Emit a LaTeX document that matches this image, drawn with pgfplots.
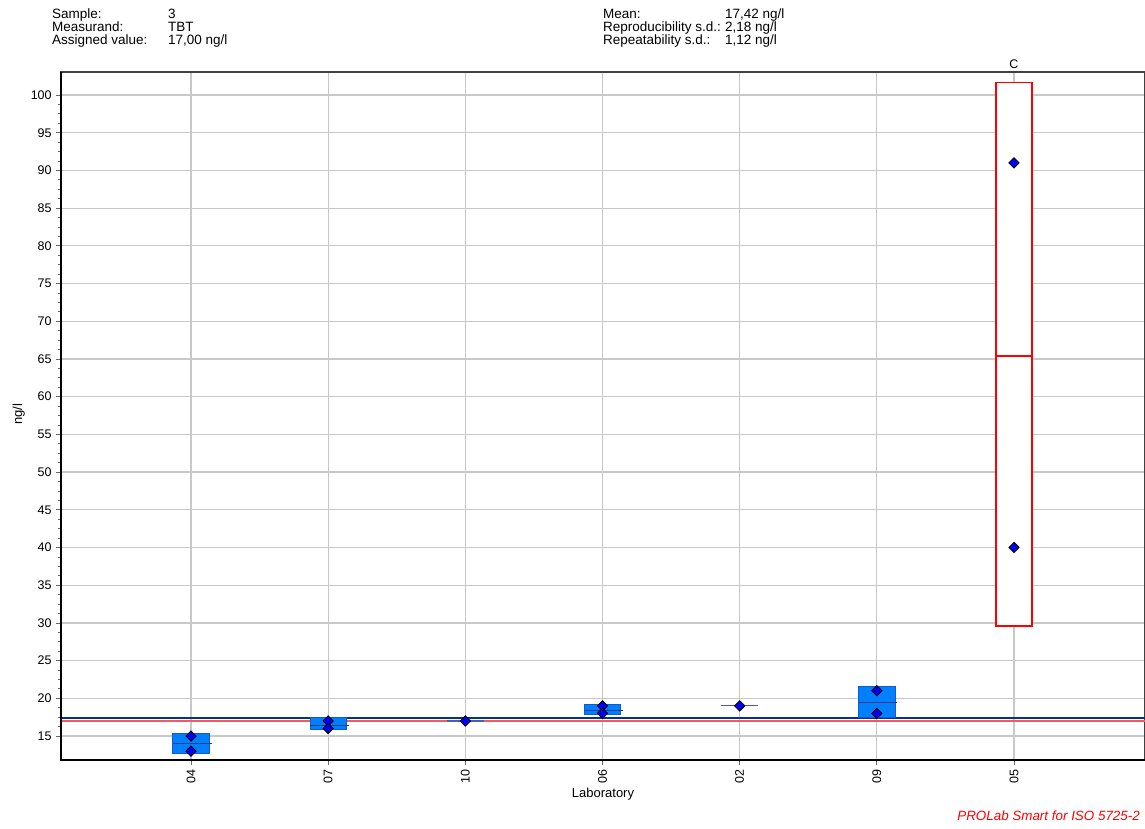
\documentclass[border=0pt]{standalone}
\usepackage{pgfplots}
\pgfplotsset{compat=1.18}
\usepackage{fontspec}
\setmainfont{Liberation Sans}
\definecolor{boxfill}{RGB}{0,128,255}
\definecolor{boxdraw}{RGB}{20,90,200}
\definecolor{mednavy}{RGB}{30,60,140}
\definecolor{meanline}{RGB}{0,51,153}
\definecolor{assigned}{RGB}{255,85,85}
\definecolor{zeroline}{RGB}{80,90,170}
\definecolor{gridgray}{RGB}{200,200,200}
\newcommand{\cf}{\fontsize{12.5}{13}\selectfont}
\newcommand{\hf}{\fontsize{13.5}{14}\selectfont}
\begin{document}
\cf
\begin{tikzpicture}
\useasboundingbox (0,0) rectangle (1145pt,828pt);
% header
\node[anchor=base west,inner sep=0pt,font=\hf] at (52pt,809pt) {Sample:};
\node[anchor=base west,inner sep=0pt,font=\hf] at (52pt,796pt) {Measurand:};
\node[anchor=base west,inner sep=0pt,font=\hf] at (52pt,783pt) {Assigned value:};
\node[anchor=base west,inner sep=0pt,font=\hf] at (168pt,809pt) {3};
\node[anchor=base west,inner sep=0pt,font=\hf] at (168pt,796pt) {TBT};
\node[anchor=base west,inner sep=0pt,font=\hf] at (168pt,783pt) {17,00 ng/l};
\node[anchor=base west,inner sep=0pt,font=\hf] at (603pt,809pt) {Mean:};
\node[anchor=base west,inner sep=0pt,font=\hf] at (603pt,796pt) {Reproducibility s.d.:};
\node[anchor=base west,inner sep=0pt,font=\hf] at (603pt,783pt) {Repeatability s.d.:};
\node[anchor=base west,inner sep=0pt,font=\hf] at (725pt,809pt) {17,42 ng/l};
\node[anchor=base west,inner sep=0pt,font=\hf] at (725pt,796pt) {2,18 ng/l};
\node[anchor=base west,inner sep=0pt,font=\hf] at (725pt,783pt) {1,12 ng/l};
% labels
\node[anchor=base,inner sep=0pt,font=\fontsize{13}{14}\selectfont] at (603pt,31pt) {Laboratory};
\node[anchor=base,inner sep=0pt,rotate=90,font=\fontsize{13}{14}\selectfont] at (22pt,414pt) {ng/l};
\node[anchor=base east,inner sep=0pt,text=red,font=\fontsize{13.4}{14}\selectfont\itshape] at (1140pt,8pt) {PROLab Smart for ISO 5725-2};
\begin{axis}[
  at={(61pt,68pt)}, anchor=south west, scale only axis,
  width=1084pt, height=688pt,
  xmin=0.052, xmax=7.955, ymin=11.82, ymax=103.05,
  clip=false,
  xtick={1,...,7},
  xticklabels={04,07,10,06,02,09,05},
  xticklabel style={rotate=90, anchor=east, font=\cf},
  ytick={15,20,...,100},
  minor y tick num=3,
  yticklabel style={font=\cf},
  /pgf/number format/assume math mode=true,
  tick align=outside, tick pos=left,
  major tick length=5pt, minor tick length=3pt,
  every tick/.style={draw=black!60, line width=0.8pt},
  grid=major,
  major grid style={draw=gridgray, line width=1.2pt},
  axis line style={draw=black!75, line width=1.2pt},
]
% reference lines
\addplot[assigned, line width=1.6pt] coordinates {(0.052,17.00) (7.955,17.00)};
\addplot[meanline, line width=2pt] coordinates {(0.052,17.42) (7.955,17.42)};
% boxes (lab 04, 07, 06, 09)
\addplot[draw=boxdraw, fill=boxfill, line width=0.9pt] coordinates {(0.8675,12.70) (1.1325,12.70) (1.1325,15.36) (0.8675,15.36)} -- cycle;
\addplot[mednavy, line width=1pt] coordinates {(0.8675,14.03) (1.15,14.03)};
\addplot[draw=boxdraw, fill=boxfill, line width=0.9pt] coordinates {(1.8675,15.89) (2.1325,15.89) (2.1325,17.43) (1.8675,17.43)} -- cycle;
\addplot[mednavy, line width=1pt] coordinates {(1.8675,16.46) (2.15,16.46)};
\addplot[zeroline, line width=1.2pt] coordinates {(2.863,17.00) (3.137,17.00)};
\addplot[draw=boxdraw, fill=boxfill, line width=0.9pt] coordinates {(3.8675,17.88) (4.1325,17.88) (4.1325,19.24) (3.8675,19.24)} -- cycle;
\addplot[mednavy, line width=1pt] coordinates {(3.8675,18.45) (4.15,18.45)};
\addplot[zeroline, line width=1.2pt] coordinates {(4.863,19.00) (5.137,19.00)};
\addplot[draw=boxdraw, fill=boxfill, line width=0.9pt] coordinates {(5.8675,17.48) (6.1325,17.48) (6.1325,21.63) (5.8675,21.63)} -- cycle;
\addplot[mednavy, line width=1pt] coordinates {(5.8675,19.47) (6.15,19.47)};
% lab 05 (outlier, red)
\addplot[draw=red, fill=white, line width=1.4pt] coordinates {(6.87,29.59) (7.13,29.59) (7.13,101.63) (6.87,101.63)} -- cycle;
\addplot[red, line width=1.1pt] coordinates {(6.87,65.39) (7.13,65.39)};
% individual results
\addplot[only marks, mark=square*, mark size=3.6pt, mark options={rotate=45, fill=blue, draw=black, line width=0.9pt}] coordinates {
 (1,15) (1,13) (2,17) (2,16) (3,17) (4,19) (4,18) (5,19) (6,21) (6,18) (7,91) (7,40)};
% thick left and bottom axis lines
\draw[line width=2.6pt, black] (rel axis cs:0,1) -- (rel axis cs:0,0) -- (rel axis cs:1,0);
\node[anchor=base, inner sep=0pt, font=\cf] at (axis cs:7,103.05) [yshift=3.7pt] {C};
\end{axis}
\end{tikzpicture}
\end{document}
